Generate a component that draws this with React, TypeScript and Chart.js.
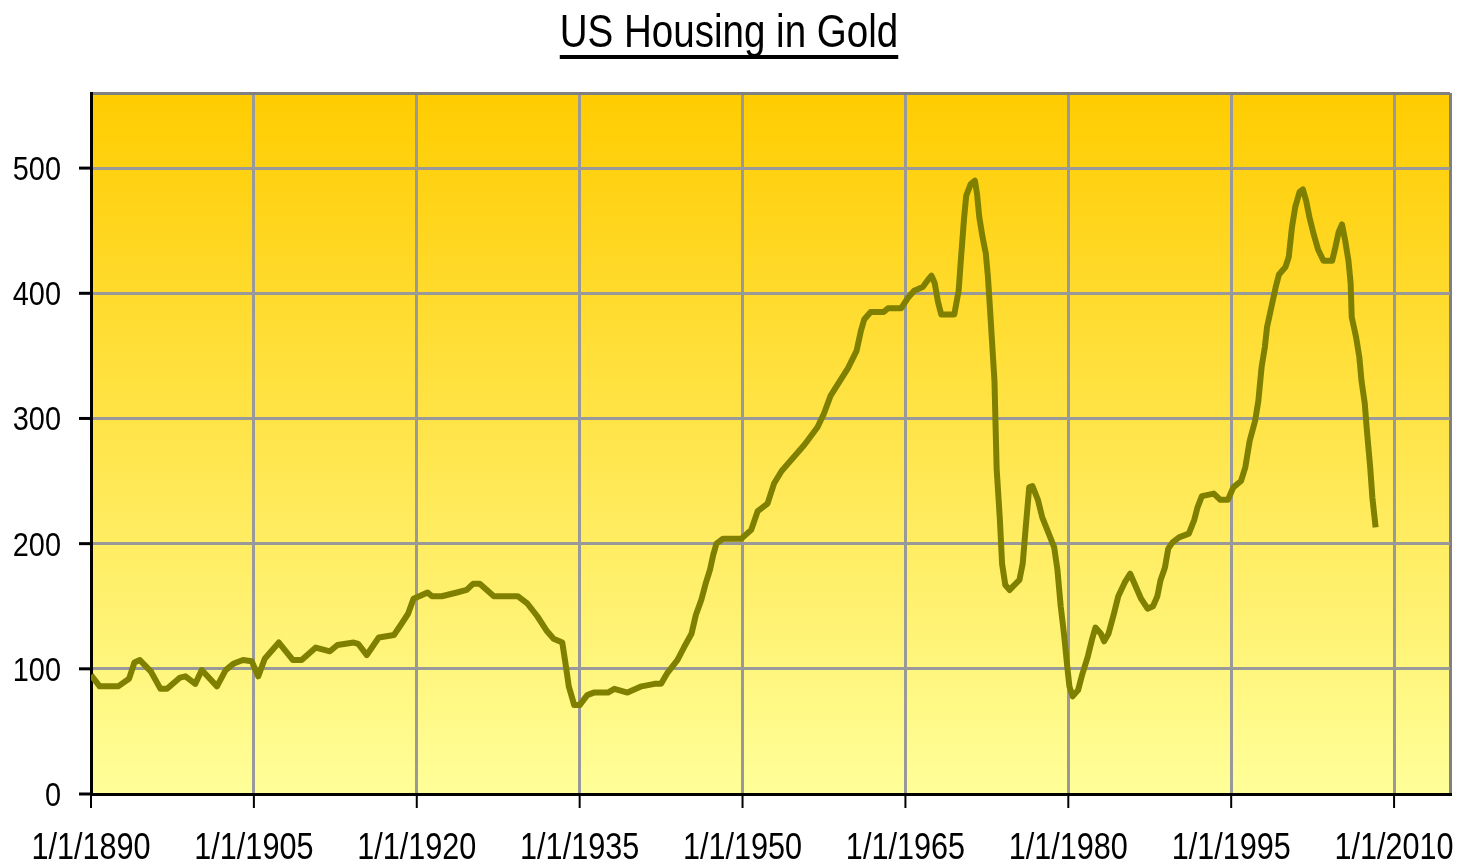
import { useEffect, useRef } from 'react';
import { Chart, registerables } from 'chart.js';

Chart.register(...registerables);

const TITLE = 'US Housing in Gold';

const years = [
  1890.0, 1890.8, 1892.5, 1893.5, 1894.0, 1894.5, 1895.5, 1896.4, 1897.0, 1898.2,
  1898.7, 1899.6, 1900.2, 1901.6, 1902.4, 1903.1, 1904.0, 1904.8, 1905.4, 1906.0,
  1907.3, 1908.6, 1909.4, 1910.7, 1912.0, 1912.7, 1914.2, 1914.6, 1915.4, 1916.5,
  1917.9, 1918.6, 1919.2, 1919.7, 1921.0, 1921.4, 1922.3, 1923.7, 1924.6, 1925.2,
  1925.8, 1927.1, 1929.3, 1930.2, 1931.1, 1932.0, 1932.6, 1933.4, 1933.7, 1934.0,
  1934.5, 1935.0, 1935.7, 1936.3, 1937.6, 1938.2, 1939.4, 1940.7, 1941.9, 1942.5,
  1943.1, 1944.0, 1944.6, 1945.3, 1945.7, 1946.2, 1946.6, 1947.0, 1947.3, 1947.6,
  1948.2, 1949.9, 1950.8, 1951.4, 1952.3, 1952.9, 1953.6, 1954.5, 1955.7, 1956.9,
  1957.5, 1958.1, 1958.9, 1959.7, 1960.5, 1960.9, 1961.2, 1961.8, 1963.0, 1963.4,
  1964.6, 1965.2, 1965.8, 1966.6, 1967.1, 1967.4, 1967.7, 1968.0, 1968.3, 1969.5,
  1969.9, 1970.1, 1970.4, 1970.6, 1971.0, 1971.4, 1971.6, 1971.8, 1972.1, 1972.4,
  1972.6, 1972.8, 1973.2, 1973.4, 1973.7, 1973.9, 1974.2, 1974.6, 1975.5, 1975.8,
  1976.1, 1976.4, 1976.7, 1977.2, 1977.6, 1978.2, 1978.7, 1979.0, 1979.3, 1979.6,
  1979.9, 1980.1, 1980.4, 1980.9, 1981.3, 1981.8, 1982.2, 1982.5, 1983.0, 1983.3,
  1983.7, 1984.2, 1984.6, 1985.2, 1985.7, 1986.1, 1986.7, 1987.3, 1987.8, 1988.2,
  1988.5, 1988.9, 1989.2, 1989.6, 1990.2, 1991.1, 1991.6, 1991.9, 1992.3, 1993.4,
  1994.0, 1994.7, 1995.2, 1995.9, 1996.3, 1996.7, 1997.2, 1997.5, 1997.8, 1998.1,
  1998.3, 1998.7, 1999.1, 1999.4, 2000.0, 2000.3, 2000.6, 2000.9, 2001.3, 2001.6,
  2001.9, 2002.2, 2002.6, 2003.0, 2003.5, 2004.3, 2004.6, 2004.9, 2005.2, 2005.5,
  2005.8, 2006.0, 2006.1, 2006.5, 2006.8, 2007.0, 2007.3, 2007.5, 2007.8, 2008.0,
  2008.3,
];

const values = [
  95, 86, 86, 92, 105, 107, 98, 84, 84, 93,
  94, 88, 99, 86, 99, 104, 107, 106, 94, 108,
  121, 107, 107, 117, 114, 119, 121, 120, 111, 125,
  127, 136, 144, 156, 161, 158, 158, 161, 163, 168,
  168, 158, 158, 152, 142, 130, 124, 121, 104, 86,
  71, 71, 79, 81, 81, 84, 81, 86, 88, 88,
  97, 107, 117, 128, 143, 155, 168, 179, 191, 200,
  204, 204, 211, 226, 232, 248, 258, 267, 279, 293,
  304, 318, 329, 340, 354, 370, 379, 385, 385, 388,
  388, 396, 402, 405, 411, 414, 408, 393, 383, 383,
  402, 426, 460, 478, 487, 490, 479, 461, 445, 432,
  413, 386, 330, 260, 219, 184, 167, 163, 171, 184,
  215, 245, 246, 235, 221, 208, 197, 179, 150, 128,
  102, 86, 78, 83, 96, 110, 124, 133, 128, 122,
  128, 144, 158, 169, 176, 168, 156, 148, 150, 158,
  171, 181, 196, 201, 205, 208, 219, 229, 238, 240,
  235, 235, 245, 250, 261, 282, 298, 314, 341, 357,
  373, 389, 405, 415, 421, 429, 453, 469, 481, 483,
  474, 461, 447, 435, 426, 426, 437, 449, 455, 442,
  426, 408, 381, 365, 349, 330, 312, 290, 261, 237,
  213,
];

const xTickYears = [1890, 1905, 1920, 1935, 1950, 1965, 1980, 1995, 2010];
const xTickLabels = ['1/1/1890', '1/1/1905', '1/1/1920', '1/1/1935', '1/1/1950', '1/1/1965', '1/1/1980', '1/1/1995', '1/1/2010'];
const yTickValues = [0, 100, 200, 300, 400, 500];
const yTickLabels = ['0', '100', '200', '300', '400', '500'];

const X_MIN = 1890;
const X_MAX = 2015.15;
const Y_MIN = 0;
const Y_MAX = 560;

const FONT = '"Liberation Sans", Arial, sans-serif';

function drawScaled(
  ctx: CanvasRenderingContext2D,
  text: string,
  x: number,
  y: number,
  size: number,
  sx: number,
  align: 'left' | 'center' | 'right'
) {
  ctx.save();
  ctx.font = `${size}px ${FONT}`;
  ctx.textBaseline = 'alphabetic';
  ctx.textAlign = 'left';
  const w = ctx.measureText(text).width * sx;
  const left = align === 'center' ? x - w / 2 : align === 'right' ? x - w : x;
  ctx.translate(left, y);
  ctx.scale(sx, 1);
  ctx.fillStyle = '#000';
  ctx.fillText(text, 0, 0);
  ctx.restore();
  return { left, w };
}

const backgroundPlugin = {
  id: 'goldBackground',
  beforeDraw(chart: any) {
    const { ctx, chartArea } = chart;
    if (!chartArea) return;
    const g = ctx.createLinearGradient(0, chartArea.top, 0, chartArea.bottom);
    g.addColorStop(0, '#FFCC00');
    g.addColorStop(1, '#FFFF99');
    ctx.save();
    ctx.fillStyle = '#FFFFFF';
    ctx.fillRect(0, 0, chart.width, chart.height);
    ctx.fillStyle = g;
    ctx.fillRect(chartArea.left, chartArea.top, chartArea.right - chartArea.left, chartArea.bottom - chartArea.top);
    ctx.restore();
  },
};

const textPlugin = {
  id: 'excelText',
  afterDraw(chart: any) {
    const { ctx, chartArea } = chart;
    const xs = chart.scales.x;
    const ys = chart.scales.y;

    // Title with underline
    const t = drawScaled(ctx, TITLE, 729, 47, 47, 0.82, 'center');
    ctx.save();
    ctx.fillStyle = '#000';
    ctx.fillRect(t.left, 55, t.w, 4);
    ctx.restore();

    // Y tick marks and labels
    ctx.save();
    ctx.strokeStyle = '#000';
    ctx.lineWidth = 3;
    yTickValues.forEach((v, i) => {
      const py = ys.getPixelForValue(v);
      ctx.beginPath();
      ctx.moveTo(79, py);
      ctx.lineTo(chartArea.left, py);
      ctx.stroke();
      drawScaled(ctx, yTickLabels[i], 61, py + 12, 34, 0.85, 'right');
    });
    ctx.restore();

    // X tick marks and labels
    ctx.save();
    ctx.strokeStyle = '#000';
    ctx.lineWidth = 2;
    xTickYears.forEach((v, i) => {
      const px = xs.getPixelForValue(v);
      ctx.beginPath();
      ctx.moveTo(px, chartArea.bottom);
      ctx.lineTo(px, chartArea.bottom + 14);
      ctx.stroke();
      drawScaled(ctx, xTickLabels[i], px, 859, 36, 0.85, 'center');
    });
    ctx.restore();
  },
};

export default function App() {
  const ref = useRef<HTMLCanvasElement | null>(null);

  useEffect(() => {
    document.body.style.margin = '0';
    const canvas = ref.current;
    if (!canvas) return;
    const data = years.map((yr, i) => ({ x: yr, y: values[i] }));
    const chart = new Chart(canvas, {
      type: 'line',
      data: {
        datasets: [
          {
            data,
            borderColor: '#808000',
            borderWidth: 6,
            pointRadius: 0,
            tension: 0,
            fill: false,
            borderJoinStyle: 'round',
            borderCapStyle: 'butt',
          },
        ],
      },
      options: {
        animation: false,
        responsive: false,
        maintainAspectRatio: false,
        devicePixelRatio: 1,
        layout: { padding: { top: 93, right: 12, left: 0, bottom: 0 } },
        plugins: {
          legend: { display: false },
          tooltip: { enabled: false },
          title: { display: false },
        },
        scales: {
          x: {
            type: 'linear',
            min: X_MIN,
            max: X_MAX,
            afterBuildTicks: (s: any) => {
              s.ticks = [...xTickYears.map((v) => ({ value: v })), { value: X_MAX }];
            },
            afterFit: (s: any) => {
              s.height = 70;
            },
            ticks: { display: false },
            grid: {
              drawTicks: false,
              lineWidth: 3,
              color: (c: any) => (c.tick && c.tick.value === X_MAX ? '#808080' : '#999999'),
            },
            border: { display: true, color: '#000000', width: 3 },
          },
          y: {
            type: 'linear',
            min: Y_MIN,
            max: Y_MAX,
            afterBuildTicks: (s: any) => {
              s.ticks = [...yTickValues.map((v) => ({ value: v })), { value: Y_MAX }];
            },
            afterFit: (s: any) => {
              s.width = 91;
            },
            ticks: { display: false },
            grid: {
              drawTicks: false,
              lineWidth: 3,
              color: (c: any) => (c.tick && c.tick.value === Y_MAX ? '#808080' : '#999999'),
            },
            border: { display: true, color: '#000000', width: 3 },
          },
        },
      },
      plugins: [backgroundPlugin, textPlugin],
    } as any);
    return () => chart.destroy();
  }, []);

  return (
    <div style={{ position: 'absolute', left: 0, top: 0, width: 1462, height: 864 }}>
      <canvas ref={ref} width={1462} height={864} style={{ display: 'block', width: 1462, height: 864 }} />
    </div>
  );
}
